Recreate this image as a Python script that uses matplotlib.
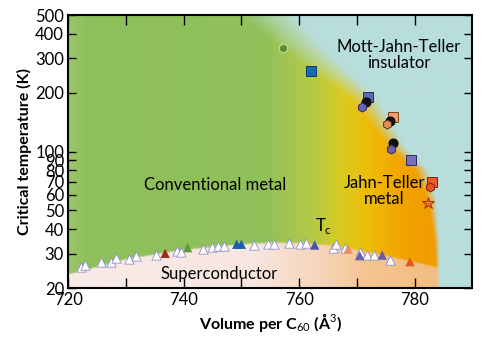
import numpy as np
import matplotlib.pyplot as plt
from matplotlib.colors import to_rgb

plt.rcParams['font.family'] = ['Lato', 'DejaVu Sans']
plt.rcParams['mathtext.fontset'] = 'custom'
plt.rcParams['mathtext.rm'] = 'Lato'

# metal / insulator boundary (T in K, V in A^3)
mi_T = [20, 35, 56, 80, 102, 184, 330, 500]
mi_V = [784.1, 783.8, 783.0, 781.2, 777.2, 771.3, 760.9, 754.3]

# superconducting dome boundary
tc_V = [720, 730, 740, 750, 755, 760, 765, 770, 775, 780, 785]
tc_T = [23.4, 28.0, 31.3, 33.4, 34.0, 33.9, 33.0, 31.2, 29.2, 27.0, 25.0]

# metal colour stops along volume
metal_V = [720, 723, 754, 762, 767, 772, 778, 785]
metal_c = ['#9cc66c', '#8dbf5c', '#90c15a', '#b4c94a', '#d8cc22', '#eebb08', '#f2a400', '#f09a00']
sc_V = [720, 752, 764, 772, 785]
sc_c = ['#f8ebe8', '#f8e6e0', '#f6d4b8', '#f4c490', '#f2bc80']
teal = '#b8dedc'

# Tc points (white triangles)
tri_w_V = [722.2, 723.0, 725.7, 727.4, 728.3, 730.6, 731.8, 735.3, 738.8, 739.5, 743.3, 745.0,
           745.9, 747.0, 752.2, 754.6, 755.7, 758.3, 760.1, 761.2, 765.9, 766.4, 767.9, 770.5,
           771.8, 773.0, 775.8]
tri_w_T = [25.5, 26.2, 27.3, 27.1, 28.6, 28.3, 29.3, 29.6, 30.9, 30.7, 31.7, 32.4,
           32.8, 32.8, 33.2, 33.7, 33.7, 33.9, 33.5, 33.9, 32.2, 33.5, 32.2, 30.7,
           29.6, 29.5, 28.0]
# coloured triangles
tri_c_V = [736.8, 740.7, 749.2, 750.0, 762.7, 768.5, 770.5, 774.4, 779.2]
tri_c_T = [30.1, 32.2, 33.5, 33.5, 33.2, 31.7, 29.3, 29.5, 27.3]
tri_c_col = ['#a32a1e', '#5b9b3c', '#1a5fb0', '#1a5fb0', '#4a55a8', '#e89060', '#6a5aa8', '#6a5aa8', '#e8561e']

# transition points (marker, V, T, face, edge)
pts = [
    ('h', 757.2, 341, '#5e8a30', '#c8e0a0'),
    ('s', 762.1, 258, '#1a6ab0', '#0a3a70'),
    ('s', 771.9, 190.8, '#5a6ab0', '#2a2a60'),
    ('o', 771.6, 180, '#111111', '#000000'),
    ('h', 770.9, 169, '#6a64b4', '#2a2a60'),
    ('s', 776.3, 150, '#f0a070', '#804020'),
    ('o', 775.7, 144, '#111111', '#000000'),
    ('h', 775.3, 138, '#e0905a', '#603010'),
    ('o', 776.2, 110, '#111111', '#000000'),
    ('h', 776.0, 103, '#7060b0', '#2a2a60'),
    ('s', 779.4, 90.6, '#7a70b8', '#2a2a60'),
    ('s', 783.0, 70, '#f05a2a', '#802010'),
    ('h', 782.7, 66, '#e85020', '#802010'),
    ('*', 782.3, 54.3, '#f07a30', '#a03010'),
]

# background image in (V, log T) space
nx, ny = 700, 500
V = np.linspace(720, 790, nx)
L = np.linspace(np.log10(20), np.log10(500), ny)
VV, LL = np.meshgrid(V, L)

def grad(stops_v, cols, v):
    rgb = np.array([to_rgb(c) for c in cols])
    return np.stack([np.interp(v, stops_v, rgb[:, k]) for k in range(3)], axis=-1)

img = grad(metal_V, metal_c, VV)
sc = grad(sc_V, sc_c, VV)
ltc = np.interp(VV, tc_V, np.log10(tc_T))
w_sc = np.clip((ltc - LL) / 0.01 + 0.5, 0, 1)[..., None]
img = img * (1 - w_sc) + sc * w_sc
vb = np.interp(LL, np.log10(mi_T), mi_V)
frac = (LL - L[0]) / (L[-1] - L[0])
width = 0.6 + 9 * frac ** 2
w_ins = np.clip((VV - vb) / width + 0.5, 0, 1)[..., None]
img = img * (1 - w_ins) + np.array(to_rgb(teal)) * w_ins

fig = plt.figure(figsize=(4.94, 3.5), dpi=100)
pos = [0.138, 0.177, 0.818, 0.780]
bg = fig.add_axes(pos)
bg.imshow(img, origin='lower', aspect='auto', extent=[720, 790, L[0], L[-1]], interpolation='bilinear')
bg.axis('off')

ax = fig.add_axes(pos)
ax.set_facecolor('none')
ax.set_yscale('log')
ax.set_xlim(720, 790)
ax.set_ylim(20, 500)

ax.scatter(tri_w_V, tri_w_T, marker='^', s=45, facecolor='white', edgecolor='#9090c8', linewidth=0.6, zorder=3)
ax.scatter(tri_c_V, tri_c_T, marker='^', s=45, c=tri_c_col, edgecolor='none', zorder=4)
for m, v, t, fc, ec in pts:
    ms = 9 if m == '*' else 6.5
    ax.plot(v, t, marker=m, ms=ms, mfc=fc, mec=ec, mew=0.7, ls='none', zorder=4)

ax.text(777.2, 312, 'Mott-Jahn-Teller\ninsulator', ha='center', va='center', fontsize=12, linespacing=1.0)
ax.text(745.4, 67.3, 'Conventional metal', ha='center', va='center', fontsize=12)
ax.text(774.8, 63, 'Jahn-Teller\nmetal', ha='center', va='center', fontsize=12, linespacing=1.0)
ax.text(764.3, 41.5, r'T$_\mathrm{c}$', ha='center', va='center', fontsize=12)
ax.text(746.1, 23.6, 'Superconductor', ha='center', va='center', fontsize=12)

yt = [20, 30, 40, 50, 60, 70, 80, 90, 100, 200, 300, 400, 500]
ax.set_yticks(yt)
ax.set_yticklabels([str(t) for t in yt])
ax.yaxis.set_minor_locator(plt.NullLocator())
ax.set_xticks([720, 740, 760, 780])
ax.set_xticks([730, 750, 770], minor=True)
ax.tick_params(which='both', direction='in', length=7, width=1, labelsize=12,
               top=True, right=True, pad=3)
ax.tick_params(axis='y', which='both', right=True, length=6)
for s in ax.spines.values():
    s.set_linewidth(1.5)

ax.set_xlabel(r'Volume per C$_{60}$ (Å$^3$)', fontsize=11.5, fontweight='bold', labelpad=2)
ax.set_ylabel('Critical temperature (K)', fontsize=11.5, fontweight='bold', labelpad=2)

fig.savefig('out.png', dpi=100)
